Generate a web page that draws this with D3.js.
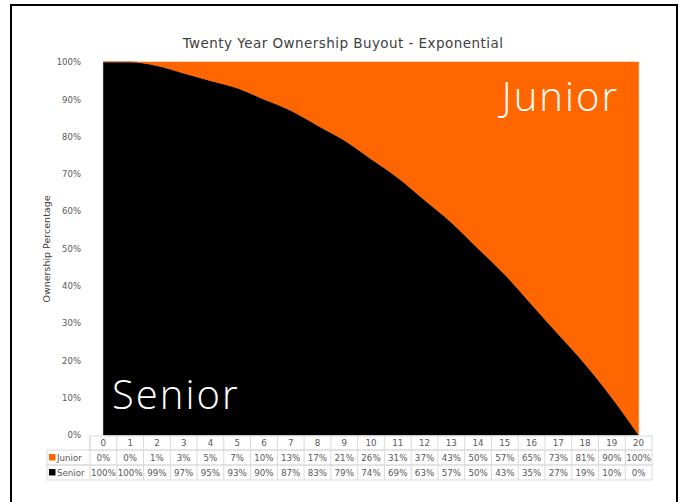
<!DOCTYPE html>
<html>
<head>
<meta charset="utf-8">
<script src="https://cdn.jsdelivr.net/npm/d3@7"></script>
<style>
  html, body { margin: 0; padding: 0; background: #fff; }
  svg { display: block; }
  text { font-family: "DejaVu Sans", Verdana, sans-serif; }
</style>
</head>
<body>
<svg id="chart" width="685" height="502"></svg>
<script>
// Ownership schedule by year (percent)
const years = d3.range(0, 21);
const junior = [0, 0, 1, 3, 5, 7, 10, 13, 17, 21, 26, 31, 37, 43, 50, 57, 65, 73, 81, 90, 100];
const senior = [100, 100, 99, 97, 95, 93, 90, 87, 83, 79, 74, 69, 63, 57, 50, 43, 35, 27, 19, 10, 0];
const seriesNames = ["Junior", "Senior"];
const seriesColors = ["#FF6600", "#000000"];
const yTicks = [0, 10, 20, 30, 40, 50, 60, 70, 80, 90, 100];
const title = "Twenty Year Ownership Buyout - Exponential";
const yTitle = "Ownership Percentage";

const svg = d3.select("#chart");

// outer frame
svg.append("rect")
  .attr("x", 11).attr("y", 5)
  .attr("width", 666).attr("height", 520)
  .attr("fill", "#fff")
  .attr("stroke", "#000").attr("stroke-width", 2);

const x = d3.scaleBand().domain(years).range([90, 652]).padding(0);
const xc = d => x(d) + x.bandwidth() / 2;
const y = d3.scaleLinear().domain([0, 100]).range([435, 62]);

// stacked data: Senior at the bottom, Junior on top
const rows = years.map((yr, i) => ({ year: yr, Senior: senior[i], Junior: junior[i] }));
const stack = d3.stack().keys(["Senior", "Junior"]);
const layers = stack(rows);
const colorOf = { Junior: seriesColors[0], Senior: seriesColors[1] };

const area = d3.area()
  .curve(d3.curveMonotoneX)
  .x(d => xc(d.data.year))
  .y0(d => y(d[0]))
  .y1(d => y(d[1]));

svg.append("g").selectAll("path")
  .data(layers)
  .join("path")
  .attr("d", area)
  .attr("fill", d => colorOf[d.key])
  .attr("stroke", d => colorOf[d.key])
  .attr("stroke-width", 0.5);

// y axis labels
const yAxis = d3.axisLeft(y)
  .tickValues(yTicks)
  .tickFormat(d => d + "%")
  .tickSize(0)
  .tickPadding(0);
const yg = svg.append("g").attr("transform", "translate(81,0)").call(yAxis);
yg.select(".domain").remove();
yg.selectAll("text")
  .attr("fill", "#595959")
  .style("font-size", "8.5px")
  .style("font-family", "'DejaVu Sans', Verdana, sans-serif");

// y axis title
svg.append("text")
  .attr("transform", "translate(50,249) rotate(-90)")
  .attr("text-anchor", "middle")
  .attr("fill", "#404040")
  .style("font-size", "9.5px")
  .text(yTitle);

// chart title
svg.append("text")
  .attr("x", 343).attr("y", 48)
  .attr("text-anchor", "middle")
  .attr("fill", "#404040")
  .style("font-size", "13.5px")
  .style("letter-spacing", "0.45px")
  .text(title);

// series labels inside the areas
const bigFont = "'Open Sans', 'DejaVu Sans', sans-serif";
svg.append("text")
  .attr("x", 619).attr("y", 111)
  .attr("text-anchor", "end")
  .attr("fill", "#fff")
  .style("font-family", bigFont)
  .style("font-size", "40px")
  .style("font-weight", "300")
  .style("letter-spacing", "2px")
  .text("Junior");
svg.append("text")
  .attr("x", 112).attr("y", 409)
  .attr("text-anchor", "start")
  .attr("fill", "#fff")
  .style("font-family", bigFont)
  .style("font-size", "40px")
  .style("font-weight", "300")
  .style("letter-spacing", "2px")
  .text("Senior");

// data table under the plot
const grid = "#d9d9d9";
const tableG = svg.append("g");
const rowTop = [436, 450, 465];
const rowBot = [450, 465, 480];
const legendLeft = 47;

// header row
tableG.append("rect")
  .attr("x", x.range()[0]).attr("y", rowTop[0])
  .attr("width", x.range()[1] - x.range()[0]).attr("height", rowBot[0] - rowTop[0])
  .attr("fill", "none").attr("stroke", grid);
// data rows, including legend cell
[0, 1].forEach(r => {
  tableG.append("rect")
    .attr("x", legendLeft).attr("y", rowTop[r + 1])
    .attr("width", x.range()[1] - legendLeft).attr("height", rowBot[r + 1] - rowTop[r + 1])
    .attr("fill", "none").attr("stroke", grid);
});
// column dividers
tableG.selectAll("line.col")
  .data(years)
  .join("line")
  .attr("class", "col")
  .attr("x1", d => x(d)).attr("x2", d => x(d))
  .attr("y1", rowTop[0]).attr("y2", rowBot[2])
  .attr("stroke", grid);

const cellFont = "8.7px";
// header labels
tableG.selectAll("text.hdr")
  .data(years)
  .join("text")
  .attr("class", "hdr")
  .attr("x", d => xc(d)).attr("y", (rowTop[0] + rowBot[0]) / 2 + 3)
  .attr("text-anchor", "middle")
  .attr("fill", "#595959")
  .style("font-size", cellFont)
  .text(d => d);

const seriesRows = [junior, senior];
seriesRows.forEach((vals, r) => {
  const cy = (rowTop[r + 1] + rowBot[r + 1]) / 2;
  tableG.append("rect")
    .attr("x", 49).attr("y", cy - 3.5)
    .attr("width", 6.5).attr("height", 6.5)
    .attr("fill", seriesColors[r]);
  tableG.append("text")
    .attr("x", 57).attr("y", cy + 3)
    .attr("fill", "#595959")
    .style("font-size", cellFont)
    .text(seriesNames[r]);
  tableG.selectAll("text.v" + r)
    .data(vals)
    .join("text")
    .attr("class", "v" + r)
    .attr("x", (d, i) => xc(years[i])).attr("y", cy + 3)
    .attr("text-anchor", "middle")
    .attr("fill", "#595959")
    .style("font-size", cellFont)
    .text(d => d + "%");
});
</script>
</body>
</html>
